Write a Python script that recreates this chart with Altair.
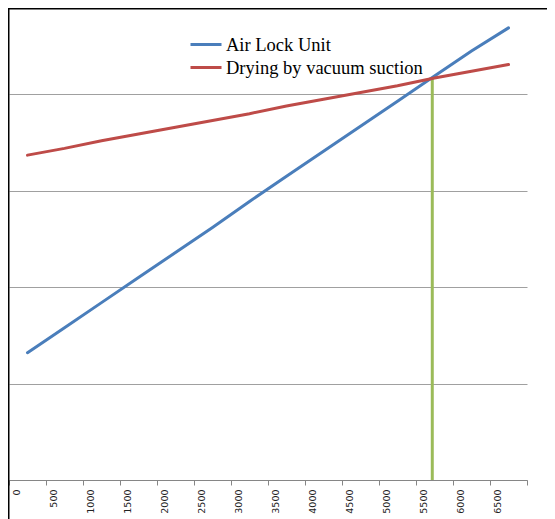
import altair as alt
import pandas as pd

# ---- data ----
categories = ['0', '500', '1000', '1500', '2000', '2500', '3000', '3500',
              '4000', '4500', '5000', '5500', '6000', '6500']
series_names = ['Air Lock Unit', 'Drying by vacuum suction']
air_lock_unit = [1.32, 1.58, 1.84, 2.10, 2.36, 2.62, 2.89, 3.15, 3.41, 3.67, 3.93, 4.19, 4.45, 4.69]
vacuum_suction = [3.37, 3.44, 3.52, 3.59, 3.66, 3.73, 3.80, 3.88, 3.95, 4.02, 4.09, 4.17, 4.24, 4.31]
crossing_x = [5470]
crossing_y = [4.17]

BLUE, RED, GREEN = '#4A7EBB', '#BE4B48', '#9BBB59'
Y_DOMAIN = [0, 4.886]
W, H = 518, 471

rows = []
for name, vals in zip(series_names, [air_lock_unit, vacuum_suction]):
    for c, v in zip(categories, vals):
        rows.append({'cat': c, 'series': name, 'value': v})
df = pd.DataFrame(rows)
green_df = pd.DataFrame({'x': crossing_x, 'y0': [0], 'y1': crossing_y})

lines = alt.Chart(df).mark_line(strokeWidth=3, strokeCap='round').encode(
    x=alt.X('cat:O', sort=categories,
            scale=alt.Scale(type='band', domain=categories, paddingInner=0, paddingOuter=0),
            bandPosition=0.5,
            axis=alt.Axis(title=None, tickBand='extent', labelAngle=270, labelOffset=-11,
                          labelPadding=4, tickSize=5, tickColor='#868686', domainColor='#868686',
                          labelFont='DejaVu Sans', labelFontSize=9.5, labelColor='#222222',
                          grid=False)),
    y=alt.Y('value:Q', scale=alt.Scale(domain=Y_DOMAIN, nice=False, zero=True),
            axis=alt.Axis(title=None, labels=False, ticks=False, domain=False,
                          values=[0, 1, 2, 3, 4], grid=True, gridColor='#a0a0a0', gridWidth=1)),
    color=alt.Color('series:N',
                    scale=alt.Scale(domain=series_names, range=[BLUE, RED]),
                    legend=alt.Legend(title=None, orient='none', legendX=180, legendY=24,
                                      symbolType='stroke', symbolStrokeWidth=3, symbolSize=961,
                                      labelFont='Liberation Serif', labelFontSize=18.5,
                                      labelColor='#000000', clipHeight=23, rowPadding=0,
                                      padding=0, labelOffset=3, labelLimit=400))
)

green = alt.Chart(green_df).mark_rule(color=GREEN, strokeWidth=3).encode(
    x=alt.X('x:Q', scale=alt.Scale(domain=[-250, 6750], nice=False, zero=False), axis=None),
    y=alt.Y('y0:Q', scale=alt.Scale(domain=Y_DOMAIN, nice=False, zero=True)),
    y2='y1:Q'
)

frame_df = pd.DataFrame({'a': [0]})
top_border = alt.Chart(frame_df).mark_rule(color='#000000', strokeWidth=2).encode(
    x=alt.value(-2), x2=alt.value(560), y=alt.value(-0.5))
left_border = alt.Chart(frame_df).mark_rule(color='#000000', strokeWidth=2).encode(
    x=alt.value(-0.5), y=alt.value(-2), y2=alt.value(560))

chart = alt.layer(green, lines, top_border, left_border).resolve_scale(
    x='independent'
).properties(
    width=W, height=H,
    autosize=alt.AutoSizeParams(type='none'),
    padding={'left': 1, 'top': 1, 'right': 20, 'bottom': 39}
).configure_view(stroke=None)

chart.save("out.html", embed_options={"renderer": "svg", "actions": False})
